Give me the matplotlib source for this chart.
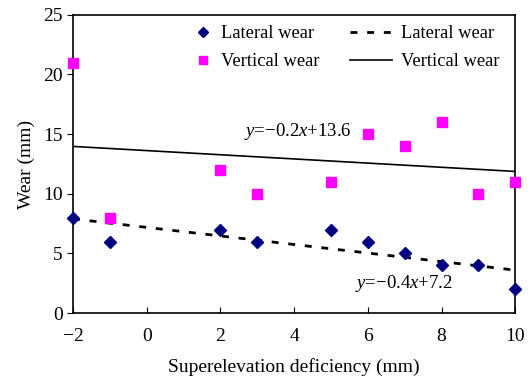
import numpy as np
import matplotlib
matplotlib.use('Agg')
import matplotlib.pyplot as plt

plt.rcParams['font.family'] = ['Liberation Serif', 'DejaVu Serif']
plt.rcParams['mathtext.fontset'] = 'custom'
plt.rcParams['mathtext.rm'] = 'Liberation Serif'
plt.rcParams['mathtext.it'] = 'Liberation Serif:italic'

# deficiency (mm) and measured wear (mm)
deficiency = np.array([-2, -1, 2, 3, 5, 6, 7, 8, 9, 10])
lateral = np.array([8, 6, 7, 6, 7, 6, 5, 4, 4, 2])
vertical = np.array([21, 8, 12, 10, 11, 15, 14, 16, 10, 11])
lateral_eq = '$y$=\u22120.4$x$+7.2'
vertical_eq = '$y$=\u22120.2$x$+13.6'

W, H = 529, 380
fig = plt.figure(figsize=(W / 100, H / 100), dpi=100)
ax = fig.add_axes([0.138, 0.176, 0.836, 0.785])

p1, = ax.plot(deficiency, lateral, 'D', color='#000080', ms=6.5, ls='none',
              label='Lateral wear', clip_on=False, zorder=3)
p2, = ax.plot(deficiency, vertical, 's', color='#FF00FF', ms=7, ls='none',
              label='Vertical wear', clip_on=False, zorder=3)

# linear trend lines
xs = np.array([-2, 10])
kl = np.polyfit(deficiency, lateral, 1)
kv = np.polyfit(deficiency, vertical, 1)
l1, = ax.plot(xs, np.polyval(kl, xs), color='black', lw=2, ls=(0, (2.5, 3.5)),
              label='Lateral wear')
l2, = ax.plot(xs, np.polyval(kv, xs), color='black', lw=1.2,
              label='Vertical wear')

ax.text(2.65, 15.2, vertical_eq, fontsize=13.5, va='center')
ax.text(5.65, 2.5, lateral_eq, fontsize=13.5, va='center')

ax.set_xlim(-2, 10)
ax.set_ylim(0, 25)
ax.set_xticks(range(-2, 11, 2))
ax.set_xticklabels(['\u22122', '0', '2', '4', '6', '8', '10'])
ax.set_yticks(range(0, 26, 5))
ax.tick_params(axis='x', direction='in', length=4, labelsize=14, pad=11)
ax.tick_params(axis='y', direction='out', length=4, labelsize=14)
for s in ax.spines.values():
    s.set_linewidth(1.2)
ax.set_xlabel('Superelevation deficiency (mm)', fontsize=14, labelpad=9)
ax.set_ylabel('Wear (mm)', fontsize=14, labelpad=6)

# two legend columns: markers, then trend lines
common = dict(frameon=False, fontsize=13.3, loc='upper left', borderpad=0,
              borderaxespad=0, labelspacing=0.62,
              bbox_transform=fig.transFigure)
leg1 = fig.legend([p1, p2], ['Lateral wear', 'Vertical wear'],
                  bbox_to_anchor=(194 / W, 1 - 25 / H), handlelength=1.0,
                  handletextpad=0.47, markerscale=0.75, **common)
leg2 = fig.legend([l1, l2], ['Lateral wear', 'Vertical wear'],
                  bbox_to_anchor=(350 / W, 1 - 25 / H), handlelength=2.3,
                  handletextpad=0.45, **common)

fig.savefig('out.png', dpi=100)
